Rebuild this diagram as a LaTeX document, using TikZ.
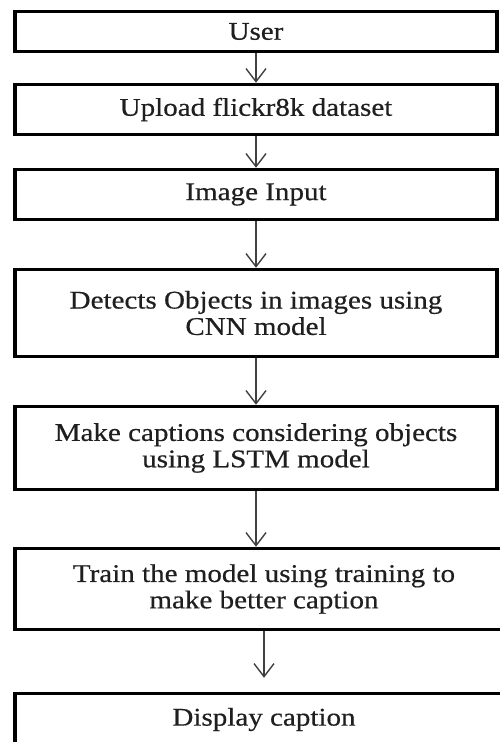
\documentclass[tikz,border=0pt]{standalone}
\usepackage{fontspec}
\setmainfont[FakeStretch=1.14,FakeBold=0.5]{Liberation Serif}
\usetikzlibrary{arrows.meta}
\begin{document}
\begin{tikzpicture}[>={Straight Barb[length=2.6mm,width=4mm]}]
    \tikzset{
      stage/.style={draw, line width=2pt, minimum width=9.64cm, align=center,
        text=black!88, font=\fontsize{14.5}{15}\selectfont, inner sep=0pt},
      flow/.style={->, line width=0.8pt, draw=black!75}
    }
    % Page of 500x742 px, 1 px = 0.02 cm
    \clip (0,0) rectangle (10,-14.84);
    \useasboundingbox (0,0) rectangle (10,-14.84);

    % Stages, top to bottom
    \node[stage, minimum height=0.80cm] (user) at (5.12,-0.63) {User};
    \node[stage, minimum height=1.00cm] (upload) at (5.12,-2.19) {Upload flickr8k dataset};
    \node[stage, minimum height=1.00cm] (input) at (5.12,-3.89) {Image Input};
    \node[stage, minimum height=1.74cm] (detect) at (5.12,-6.26) {Detects Objects in images using\\CNN model};
    \node[stage, minimum height=1.66cm] (caption) at (5.12,-8.96) {Make captions considering objects\\using LSTM model};

    % Last two boxes run past the right edge
    \node[stage, minimum height=1.62cm, minimum width=9.96cm] (train) at (5.28,-11.78) {Train the model using training to\\make better caption};
    \node[stage, minimum height=1.04cm, minimum width=9.96cm] (display) at (5.28,-14.39) {Display caption};

    % Arrows
    \draw[flow] (user) -- (upload);
    \draw[flow] (upload) -- (input);
    \draw[flow] (input) -- (detect);
    \draw[flow] (detect) -- (caption);
    \draw[flow] (caption.south) -- (caption.south |- train.north);
    \draw[flow, shorten >=0.28cm] (train) -- (display);
\end{tikzpicture}
\end{document}
